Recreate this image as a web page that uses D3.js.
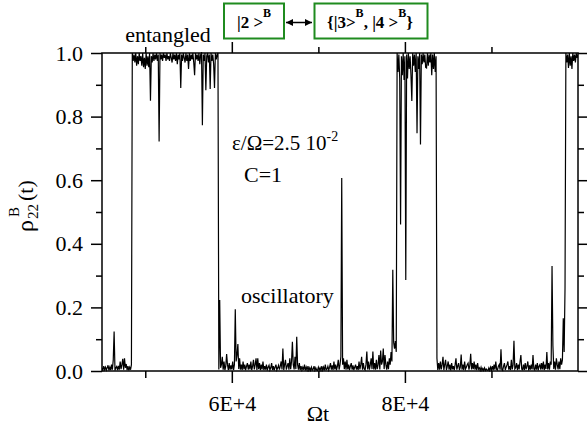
<!DOCTYPE html>
<html>
<head>
  <style>
    body { margin: 0; background: #ffffff; }
    svg text { font-family: "Liberation Serif", "Times New Roman", serif; fill: #000; }
    .axis path.domain { display: none; }
    .axis line { stroke: #000; stroke-width: 1.5; }
    .axis text { font-size: 22px; }
  </style>
</head>
<body>
<script src="https://d3js.org/d3.v7.min.js"></script>
<svg id="chart" width="587" height="435"></svg>
<script>
  // time step between samples (Omega t units)
  var step = 100;

  // low state before the first switch
  var lowAStart = 45000;
  var lowA = [0.01,0.002,0.015,0.004,0.012,0.003,0.01,0.018,0.002,0.012,
    0.003,0.02,0.004,0.035,0.124,0.002,0.01,0.014,0.003,0.016,
    0.004,0.03,0.006,0.02,0.038,0.004,0.04,0.01,0.022,0.003,
    0.015,0.002,0.012,0.004,0.02];

  // entangled state
  var highBStart = 48500;
  var highB = [1.0,0.975,0.995,0.97,1.0,0.96,0.99,0.965,1.0,0.975,
    0.99,0.96,1.0,0.955,0.985,0.95,1.0,0.96,0.99,0.955,
    1.0,0.85,0.99,0.97,1.0,0.975,0.995,0.98,1.0,0.975,
    0.995,0.722,1.0,0.98,0.995,0.975,1.0,0.985,0.995,0.975,
    1.0,0.98,0.99,0.975,1.0,0.985,0.97,1.0,0.98,0.995,
    0.975,1.0,0.965,0.995,0.98,1.0,0.89,0.995,0.975,1.0,
    0.985,0.97,1.0,0.975,0.995,0.95,1.0,0.975,0.995,0.98,
    1.0,0.97,0.93,1.0,0.98,0.995,0.975,1.0,0.965,0.995,
    1.0,0.773,0.995,0.975,1.0,0.883,0.99,1.0,0.97,0.995,
    0.887,1.0,0.975,0.995,0.965,0.89,1.0,0.98,0.995,1.0];

  // oscillatory state
  var lowCStart = 58500;
  var lowC = [0.005,0.223,0.01,0.02,0.045,0.004,0.03,0.003,0.015,0.053,
    0.02,0.003,0.025,0.004,0.018,0.005,0.03,0.003,0.02,0.194,
    0.03,0.05,0.085,0.006,0.04,0.004,0.02,0.003,0.03,0.005,
    0.02,0.003,0.015,0.025,0.004,0.02,0.005,0.03,0.003,0.015,
    0.035,0.005,0.02,0.04,0.003,0.04,0.006,0.025,0.003,0.02,
    0.005,0.03,0.003,0.015,0.004,0.02,0.002,0.012,0.018,0.003,
    0.01,0.025,0.003,0.015,0.002,0.012,0.02,0.003,0.01,0.018,
    0.004,0.015,0.03,0.005,0.071,0.003,0.02,0.035,0.004,0.015,
    0.025,0.004,0.04,0.006,0.03,0.092,0.02,0.005,0.045,0.006,
    0.108,0.02,0.004,0.025,0.003,0.015,0.003,0.012,0.004,0.02,
    0.002,0.012,0.003,0.015,0.002,0.01,0.002,0.012,0.003,0.006,
    0.015,0.002,0.01,0.003,0.002,0.012,0.003,0.01,0.002,0.015,
    0.003,0.012,0.002,0.02,0.004,0.006,0.015,0.003,0.012,0.025,
    0.004,0.018,0.003,0.03,0.005,0.02,0.003,0.015,0.035,0.004,
    0.02,0.045,0.607,0.02,0.04,0.006,0.03,0.004,0.035,0.005,
    0.02,0.003,0.015,0.025,0.004,0.018,0.003,0.012,0.02,0.004,
    0.015,0.003,0.03,0.005,0.02,0.045,0.004,0.025,0.006,0.003,
    0.02,0.061,0.005,0.03,0.004,0.02,0.04,0.006,0.061,0.005,
    0.025,0.004,0.035,0.006,0.02,0.05,0.005,0.064,0.02,0.03,
    0.071,0.006,0.05,0.02,0.004,0.03,0.006,0.04,0.02,0.06,
    0.03,0.318,0.09,0.07,0.094,0.06];

  var highDStart = 79100;
  var highD = [1.0,0.94,0.995,0.92,0.461,0.99,0.93,1.0,0.915,0.99,
    0.286,0.995,0.92,1.0,0.95,0.99,0.93,0.849,1.0,0.96,
    0.995,0.94,1.0,0.748,0.99,0.95,1.0,0.712,0.995,0.965,
    1.0,0.97,0.995,0.955,0.953,1.0,0.96,0.995,0.97,1.0,
    0.93,0.995,0.95,1.0,0.94,0.99];

  var lowEStart = 83700;
  var lowE = [0.04,0.003,0.025,0.004,0.03,0.005,0.02,0.045,0.003,0.02,
    0.035,0.003,0.015,0.03,0.004,0.02,0.002,0.025,0.005,0.015,
    0.003,0.02,0.04,0.004,0.015,0.025,0.003,0.012,0.052,0.004,
    0.02,0.003,0.03,0.006,0.012,0.02,0.025,0.004,0.018,0.054,
    0.005,0.025,0.006,0.03,0.004,0.02,0.003,0.025,0.006,0.01,
    0.002,0.012,0.002,0.008,0.002,0.01,0.002,0.006,0.003,0.002,
    0.01,0.002,0.012,0.003,0.015,0.003,0.02,0.004,0.03,0.005,
    0.003,0.015,0.02,0.004,0.068,0.005,0.002,0.015,0.025,0.003,
    0.012,0.02,0.03,0.004,0.015,0.003,0.035,0.005,0.02,0.095,
    0.006,0.01,0.025,0.003,0.02,0.005,0.03,0.05,0.006,0.004,
    0.02,0.003,0.025,0.005,0.015,0.03,0.002,0.018,0.004,0.02,
    0.005,0.05,0.006,0.003,0.02,0.004,0.025,0.002,0.015,0.02,
    0.004,0.025,0.005,0.03,0.003,0.02,0.006,0.06,0.005,0.025,
    0.004,0.03,0.02,0.33,0.08,0.006,0.03,0.004,0.04,0.02,
    0.005,0.03,0.006,0.04,0.02,0.035,0.166,0.06,0.26];

  var highFStart = 98600;
  var highF = [1.0,0.97,0.995,0.953,1.0,0.96,0.99,0.95,1.0,0.975,
    0.995,0.97,1.0,0.985,0.995];

  // axes
  var xDomain = [45000, 100000];
  var xMajor = [60000, 80000];
  var xMajorLabels = ["6E+4", "8E+4"];
  var xMinor = [50000, 70000, 90000];
  var yMajor = [0, 0.2, 0.4, 0.6, 0.8, 1.0];
  var yMinor = [0.1, 0.3, 0.5, 0.7, 0.9];

  var serif = '"Liberation Serif", "Times New Roman", serif';
  var margin = {top: 53, right: 9, bottom: 64, left: 102};
  var width = 587, height = 435;

  var svg = d3.select('#chart').attr('font-family', serif);

  var x = d3.scaleLinear().domain(xDomain).range([margin.left, width - margin.right]);
  var y = d3.scaleLinear().domain([0, 1]).range([height - margin.bottom, margin.top]);

  function seg(start, vals) {
    return vals.map(function(v, i) { return {t: start + i * step, v: v}; });
  }
  var series = [].concat(
    seg(lowAStart, lowA), seg(highBStart, highB), seg(lowCStart, lowC),
    seg(highDStart, highD), seg(lowEStart, lowE), seg(highFStart, highF));

  svg.append('clipPath').attr('id', 'plotclip')
    .append('rect')
    .attr('x', margin.left).attr('y', margin.top - 1)
    .attr('width', width - margin.left - margin.right)
    .attr('height', height - margin.top - margin.bottom + 2);

  var line = d3.line()
    .x(function(d) { return x(d.t); })
    .y(function(d) { return y(d.v); });

  svg.append('path')
    .datum(series)
    .attr('clip-path', 'url(#plotclip)')
    .attr('fill', 'none')
    .attr('stroke', '#000')
    .attr('stroke-width', 1.2)
    .attr('d', line);

  // frame
  svg.append('rect')
    .attr('x', margin.left).attr('y', margin.top)
    .attr('width', width - margin.left - margin.right)
    .attr('height', height - margin.top - margin.bottom)
    .attr('fill', 'none').attr('stroke', '#000').attr('stroke-width', 1.5);

  var bottomY = height - margin.bottom;
  var rightX = width - margin.right;

  function addAxis(axis, tx, ty) {
    svg.append('g').attr('class', 'axis')
      .attr('transform', 'translate(' + tx + ',' + ty + ')')
      .call(axis)
      .attr('font-family', serif)
      .attr('font-size', 22);
  }

  addAxis(d3.axisBottom(x).tickValues(xMajor).tickSize(12).tickPadding(12)
    .tickFormat(function(d, i) { return xMajorLabels[i]; }), 0, bottomY);
  addAxis(d3.axisBottom(x).tickValues(xMinor).tickSize(7).tickFormat(''), 0, bottomY);
  addAxis(d3.axisTop(x).tickValues(xMajor).tickSize(11).tickFormat(''), 0, margin.top);
  addAxis(d3.axisTop(x).tickValues(xMinor).tickSize(6).tickFormat(''), 0, margin.top);
  addAxis(d3.axisLeft(y).tickValues(yMajor).tickSize(11).tickPadding(8)
    .tickFormat(d3.format('.1f')), margin.left, 0);
  addAxis(d3.axisLeft(y).tickValues(yMinor).tickSize(6).tickFormat(''), margin.left, 0);
  addAxis(d3.axisRight(y).tickValues(yMajor).tickSize(11).tickFormat(''), rightX, 0);
  addAxis(d3.axisRight(y).tickValues(yMinor).tickSize(6).tickFormat(''), rightX, 0);

  // axis titles
  svg.append('text')
    .attr('x', 318).attr('y', 421)
    .attr('text-anchor', 'middle')
    .style('font-size', '22px')
    .text('\u03A9t');

  var ylab = svg.append('g').attr('transform', 'translate(33,232) rotate(-90)');
  ylab.append('text').attr('x', 0).attr('y', 0).style('font-size', '24px').text('\u03C1');
  ylab.append('text').attr('x', 15).attr('y', -14).style('font-size', '15px').text('B');
  ylab.append('text').attr('x', 13).attr('y', 5).style('font-size', '15px').text('22');
  ylab.append('text').attr('x', 31).attr('y', 0).style('font-size', '22px').text('(t)');

  // annotations
  svg.append('text').attr('x', 168).attr('y', 42)
    .attr('text-anchor', 'middle').style('font-size', '22px').text('entangled');

  var eps = svg.append('text').attr('x', 232).attr('y', 150).style('font-size', '21px');
  eps.append('tspan').text('\u03B5/\u03A9=2.5 10');
  eps.append('tspan').attr('dy', -9).style('font-size', '14px').text('-2');

  svg.append('text').attr('x', 244).attr('y', 182)
    .style('font-size', '22px').text('C=1');

  svg.append('text').attr('x', 241).attr('y', 303)
    .style('font-size', '22px').text('oscillatory');

  // state boxes
  var green = '#1f8b1f';
  svg.append('rect').attr('x', 224).attr('y', 3.5).attr('width', 60).attr('height', 35)
    .attr('fill', '#fff').attr('stroke', green).attr('stroke-width', 2);
  svg.append('rect').attr('x', 314.5).attr('y', 3.5).attr('width', 113).attr('height', 35)
    .attr('fill', '#fff').attr('stroke', green).attr('stroke-width', 2);

  var t1 = svg.append('text').attr('x', 254).attr('y', 28)
    .attr('text-anchor', 'middle').style('font-size', '17px').style('font-weight', 'bold');
  t1.append('tspan').text('|2 >');
  t1.append('tspan').attr('dy', -11).style('font-size', '12px').text('B');

  var t2 = svg.append('text').attr('x', 370).attr('y', 28)
    .attr('text-anchor', 'middle').style('font-size', '17px').style('font-weight', 'bold');
  t2.append('tspan').text('{|3>');
  t2.append('tspan').attr('dy', -11).style('font-size', '12px').text('B');
  t2.append('tspan').attr('dy', 11).text(', |4 >');
  t2.append('tspan').attr('dy', -11).style('font-size', '12px').text('B');
  t2.append('tspan').attr('dy', 11).text('}');

  // double arrow
  var defs = svg.append('defs');
  defs.append('marker').attr('id', 'ahead')
    .attr('viewBox', '0 0 10 10').attr('refX', 10).attr('refY', 5)
    .attr('markerWidth', 7).attr('markerHeight', 7)
    .attr('markerUnits', 'userSpaceOnUse')
    .attr('orient', 'auto-start-reverse')
    .append('path').attr('d', 'M0,0 L10,5 L0,10 Z').attr('fill', '#000');
  svg.append('line')
    .attr('x1', 286).attr('y1', 22.5).attr('x2', 312).attr('y2', 22.5)
    .attr('stroke', '#000').attr('stroke-width', 1.5)
    .attr('marker-start', 'url(#ahead)').attr('marker-end', 'url(#ahead)');
</script>
</body>
</html>
